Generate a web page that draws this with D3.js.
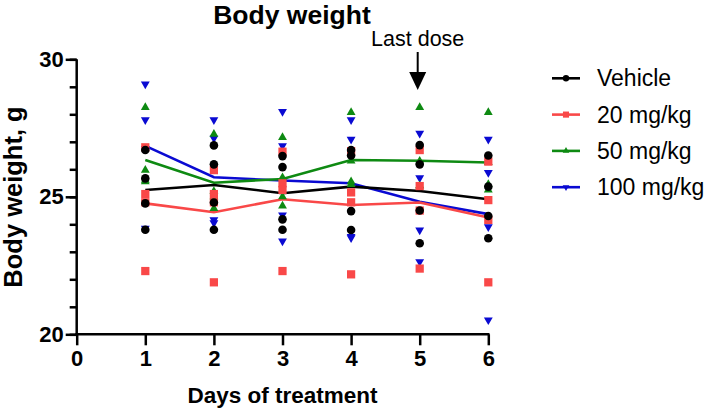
<!DOCTYPE html>
<html>
<head>
<meta charset="utf-8">
<title>Body weight</title>
<script src="https://d3js.org/d3.v7.min.js"></script>
<style>
  body { margin: 0; background: #fff; }
  svg { display: block; font-family: "Liberation Sans", Arial, sans-serif; }
  .axis path, .axis line { stroke: #000; stroke-width: 2.5px; fill: none; }
  .axis text { font-size: 22px; font-weight: bold; fill: #000; }
</style>
</head>
<body>
<script>
// days of treatment
var days = [1, 2, 3, 4, 5, 6];
var xTicks = [0, 1, 2, 3, 4, 5, 6];
var yTicks = [20, 25, 30];
var yMinor = [20, 21, 22, 23, 24, 25, 26, 27, 28, 29, 30];

var groups = ["Vehicle", "20 mg/kg", "50 mg/kg", "100 mg/kg"];

// individual animals, one array per day
var vehiclePts = [
  [26.7, 25.67, 24.76, 23.8],
  [26.87, 26.18, 24.79, 23.8],
  [26.48, 26.08, 24.18, 23.8],
  [26.7, 26.5, 24.48, 23.79],
  [26.88, 26.18, 24.5, 23.31],
  [26.5, 25.37, 24.3, 23.49]
];
var mg20Pts = [
  [26.8, 25.1, 24.8, 22.3],
  [25.97, 25.1, 24.8, 21.89],
  [26.64, 25.49, 25.25, 22.3],
  [26.66, 25.16, 24.8, 22.18],
  [26.7, 25.39, 24.5, 22.39],
  [26.28, 24.88, 24.16, 21.89]
];
var mg50Pts = [
  [28.25, 25.97, 25.6, 25.55],
  [27.28, 25.2, 25.0, 24.58],
  [27.16, 25.7, 25.0, 24.67],
  [28.07, 26.3, 25.45, 25.55],
  [28.25, 26.3, 25.4, 25.4],
  [28.07, 26.25, 25.45, 25.25]
];
var mg100Pts = [
  [29.1, 27.8, 26.75, 23.85],
  [27.8, 27.13, 24.16, 24.05],
  [28.1, 26.85, 24.34, 23.39],
  [27.8, 27.09, 23.55, 23.51],
  [27.31, 25.69, 23.79, 22.64],
  [27.09, 25.88, 23.91, 20.52]
];

// group means (lines)
var vehicleMean = [25.25, 25.43, 25.13, 25.37, 25.21, 24.91];
var mg20Mean = [24.76, 24.44, 24.91, 24.7, 24.79, 24.25];
var mg50Mean = [26.34, 25.51, 25.65, 26.34, 26.31, 26.25];
var mg100Mean = [26.85, 25.71, 25.59, 25.49, 24.82, 24.37];

var lastDoseDay = 5;

var series = [
  {name: groups[0], pts: vehiclePts, mean: vehicleMean, color: "#000000", sym: d3.symbolCircle, size: 58, rot: 0},
  {name: groups[1], pts: mg20Pts, mean: mg20Mean, color: "#f94848", sym: d3.symbolSquare, size: 68, rot: 0},
  {name: groups[2], pts: mg50Pts, mean: mg50Mean, color: "#0e8a12", sym: d3.symbolTriangle, size: 34, rot: 0},
  {name: groups[3], pts: mg100Pts, mean: mg100Mean, color: "#0a0ad2", sym: d3.symbolTriangle, size: 34, rot: 180}
];

var W = 706, H = 412;
var svg = d3.select("body").append("svg").attr("width", W).attr("height", H);

var x = d3.scaleLinear().domain([0, 6]).range([76.7, 488.3]);
var y = d3.scaleLinear().domain([20, 30]).range([334.3, 59.3]);

// y minor ticks
svg.append("g")
   .attr("class", "axis")
   .attr("transform", "translate(" + x(0) + ",0)")
   .call(d3.axisLeft(y).tickValues(yMinor).tickSize(7).tickFormat(""))
   .call(function (g) { g.select(".domain").remove(); });

// y axis
var yAxis = svg.append("g")
   .attr("class", "axis")
   .attr("transform", "translate(" + x(0) + ",0)")
   .call(d3.axisLeft(y).tickValues(yTicks).tickSize(11).tickSizeOuter(0).tickPadding(2));
yAxis.select(".domain").attr("d", "M0," + y(30) + "V" + (y(20) + 1.2));

// x axis
var xAxis = svg.append("g")
   .attr("class", "axis")
   .attr("transform", "translate(0," + y(20) + ")")
   .call(d3.axisBottom(x).tickValues(xTicks).tickSize(11).tickSizeOuter(0).tickPadding(5).tickFormat(d3.format("d")));
xAxis.select(".domain").attr("d", "M" + (x(0) - 1.2) + ",0H" + (x(6) + 1.2));

// draw lower series first so Vehicle ends on top
var drawOrder = series.slice().reverse();

var line = d3.line()
  .x(function (d, i) { return x(days[i]); })
  .y(function (d) { return y(d); });

drawOrder.forEach(function (s) {
  svg.append("path")
     .datum(s.mean)
     .attr("d", line)
     .attr("fill", "none")
     .attr("stroke", s.color)
     .attr("stroke-width", 2.6);
});

drawOrder.forEach(function (s) {
  var flat = [];
  s.pts.forEach(function (arr, i) {
    arr.forEach(function (v) { flat.push({day: days[i], v: v}); });
  });
  svg.append("g").selectAll("path")
     .data(flat)
     .enter()
     .append("path")
     .attr("d", d3.symbol().type(s.sym).size(s.size))
     .attr("transform", function (d) {
       return "translate(" + x(d.day) + "," + y(d.v) + ") rotate(" + s.rot + ")";
     })
     .attr("fill", s.color);
});

// titles
svg.append("text")
   .attr("x", 292).attr("y", 24)
   .attr("text-anchor", "middle")
   .attr("font-size", "26.5px").attr("font-weight", "bold")
   .text("Body weight");

svg.append("text")
   .attr("transform", "translate(22,197) rotate(-90)")
   .attr("text-anchor", "middle")
   .attr("font-size", "25.5px").attr("font-weight", "bold")
   .text("Body weight, g");

svg.append("text")
   .attr("x", 282.5).attr("y", 403)
   .attr("text-anchor", "middle")
   .attr("font-size", "22.5px").attr("font-weight", "bold")
   .text("Days of treatment");

// last dose arrow
var ax = x(lastDoseDay) - 2;
svg.append("text")
   .attr("x", ax).attr("y", 46)
   .attr("text-anchor", "middle")
   .attr("font-size", "21.5px")
   .text("Last dose");
svg.append("line")
   .attr("x1", ax).attr("x2", ax)
   .attr("y1", 52).attr("y2", 74)
   .attr("stroke", "#000").attr("stroke-width", 2);
svg.append("path")
   .attr("d", "M" + (ax - 8.5) + ",72L" + (ax + 8.5) + ",72L" + ax + ",90Z")
   .attr("fill", "#000");

// legend
var legend = svg.append("g").attr("transform", "translate(552,78.3)");
series.forEach(function (s, i) {
  var g = legend.append("g").attr("transform", "translate(0," + (i * 36.3) + ")");
  g.append("line").attr("x1", 0).attr("x2", 28)
   .attr("stroke", s.color).attr("stroke-width", 2.6);
  g.append("path")
   .attr("d", d3.symbol().type(s.sym).size(s.size * 0.55))
   .attr("transform", "translate(14,0) rotate(" + s.rot + ")")
   .attr("fill", s.color);
  g.append("text")
   .attr("x", 45).attr("y", 8)
   .attr("font-size", "23px")
   .text(s.name);
});
</script>
</body>
</html>
